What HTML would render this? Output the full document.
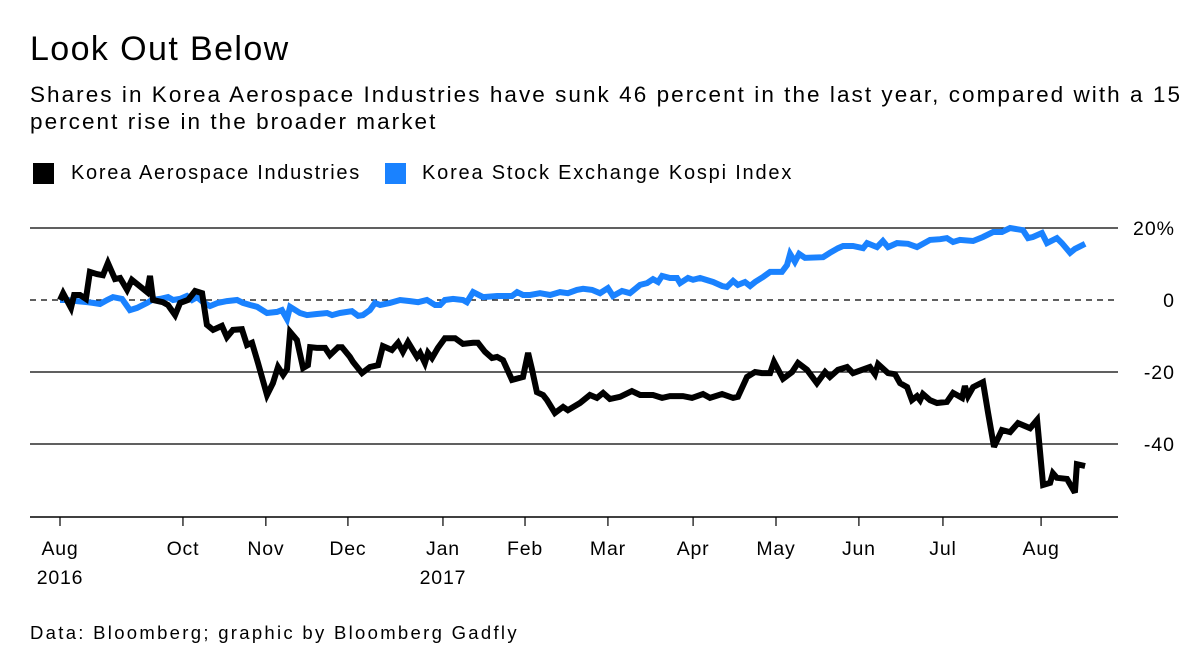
<!DOCTYPE html>
<html><head><meta charset="utf-8">
<style>
body{margin:0;background:#fff;font-family:"Liberation Sans",Arial,sans-serif;color:#000;}
#wrap{position:relative;width:1200px;height:666px;overflow:hidden;}
.t{position:absolute;white-space:nowrap;}
</style></head>
<body>
<div id="wrap">
<div class="t" style="left:30px;top:30px;font-size:34px;letter-spacing:1.4px">Look Out Below</div>
<div class="t" style="left:30px;top:81px;font-size:22.5px;line-height:27px;letter-spacing:2.05px">Shares in Korea Aerospace Industries have sunk 46 percent in the last year, compared with a 15<br>percent rise in the broader market</div>
<div class="t" style="left:33px;top:163px;width:21px;height:21px;background:#000"></div>
<div class="t" style="left:71px;top:162px;font-size:20px;letter-spacing:1.7px">Korea Aerospace Industries</div>
<div class="t" style="left:385px;top:163px;width:21px;height:21px;background:#1a82ff"></div>
<div class="t" style="left:422px;top:162px;font-size:20px;letter-spacing:1.8px">Korea Stock Exchange Kospi Index</div>
<svg id="chart" width="1200" height="666" style="position:absolute;left:0;top:0"></svg>
<div class="t" style="left:30px;top:622px;font-size:18.5px;letter-spacing:2.3px">Data: Bloomberg; graphic by Bloomberg Gadfly</div>
</div>
<script>
const kaiDays=[0,1.1,3.9,5,7.1,9.2,10.6,13.1,15.2,17,19.5,21.3,23.8,25.5,30.9,31.9,33,36.5,38.3,40.8,42.6,45.4,47.9,50.4,52.1,54.3,57.4,59.2,61.3,64.5,66.3,68.1,70.2,73.4,75.5,77.3,79.1,80.5,81.6,84,86.2,87.9,88.7,91.1,94,95.7,98.6,100,102.8,103.9,107.1,109.9,112.8,114.5,117.7,119.9,121.6,123.4,126.6,127.7,129.4,130.5,131.9,134,136.5,140.1,142.9,146.5,148.2,150.7,153.2,155,157.1,160.3,164.2,166,167.4,169.1,171.3,172.7,175.5,178.4,180.1,184.4,187.9,190.4,192.6,195,198.6,202.8,205.7,210.3,213.5,216.3,220.9,224.1,228,230.5,234.8,238.7,240.4,243.6,246.5,248.9,251.8,253.2,256.4,259.6,261.7,264.9,268.4,271.3,273,275.9,279.1,281.2,287.2,289,290.1,293.6,296.1,297.9,300.4,302.1,303.9,305,306,308.5,311,314.5,316.7,319.9,320.9,322,323.8,327.3,329.1,331.2,334,336.9,339.7,344,346.5,348.6,351.1,352.1,353.5,357.1,359.9,360.6,363.5];
const kaiValues=[0,1.9,-2.2,1.4,1.4,0.3,7.8,7.2,6.9,10.3,5.8,6.1,2.8,5.6,2.2,6.7,0,-0.6,-1.4,-4.2,-0.8,0,2.5,1.9,-6.9,-8.3,-7.2,-10.3,-8.3,-8.1,-12.5,-11.9,-17.5,-26.4,-23.1,-18.6,-20.8,-19.2,-8.9,-11.1,-18.9,-18.1,-13.1,-13.3,-13.3,-15.3,-13.1,-13.1,-15.8,-17.2,-20.3,-18.6,-18.1,-12.8,-13.9,-11.9,-14.4,-11.7,-15.8,-14.7,-17.5,-14.7,-16.1,-13.3,-10.6,-10.6,-12.2,-11.9,-11.9,-14.4,-16.1,-15.8,-16.7,-22.2,-21.4,-14.7,-19.4,-25.6,-26.4,-27.8,-31.4,-29.7,-30.6,-28.6,-26.4,-27.2,-25.8,-27.5,-26.9,-25.3,-26.4,-26.4,-27.2,-26.7,-26.7,-27.2,-26.1,-27.2,-26.1,-27.2,-26.9,-21.4,-20,-20.3,-20.3,-17.2,-21.9,-20,-17.5,-19.4,-23.1,-20,-21.4,-19.4,-18.6,-20.3,-18.6,-20.6,-17.8,-20.3,-20.6,-23.1,-24.2,-27.8,-26.7,-27.8,-26.1,-27.8,-28.6,-28.3,-25.8,-27.2,-23.9,-26.7,-24.2,-22.8,-31.4,-40.8,-36.1,-36.7,-34.2,-35.6,-33.3,-51.4,-50.8,-48.1,-49.4,-49.7,-53.5,-45.6,-46.1];
const kospiDays=[0,2.5,6,9.6,11.7,14.2,16.7,18.8,22,24.8,27.3,30.9,32.6,35.5,38.3,40.1,42.6,45,46.8,48.6,50.7,53.2,56,59.2,62.8,64.9,67.4,69.9,73.4,77,78.7,80.5,81.6,85.1,87.6,91.1,94.7,96.5,99.3,103.5,105.7,107.4,109.9,111.7,113.5,117,120.6,124.1,127,130.1,133,134.8,136.5,139.4,142.9,144.3,146.5,150,155,160.3,162.1,164.2,166.7,170.2,173.8,177.3,180.1,183.3,185.5,188.7,191.5,194.3,196.1,199.3,202.1,205.7,208.2,210.3,212.1,213.5,216.3,218.8,219.9,222.7,224.5,227,231.6,234.8,236.5,238.7,240.4,242.9,244.7,246.5,249.3,251.8,256,257.8,258.9,260.6,262.1,264.2,270.6,273,275.9,277.7,281.2,284.8,286.2,289.7,291.8,293.6,296.8,300.7,303.9,308.5,312.1,314.5,316.7,319.1,323.8,327.3,330.9,334,336.9,341.5,343.3,345,348.2,350,353.5,355.3,358.2,359.9,363.5];
const kospiValues=[0,0,-0.3,-0.6,-0.8,-1.1,0,0.8,0.3,-2.8,-2.2,-0.8,0,0.3,0.8,0,0.3,1.1,0,0.8,-0.6,-1.7,-0.8,-0.3,0,-0.8,-1.4,-1.9,-3.6,-3.3,-2.8,-5.3,-1.9,-3.6,-4.2,-3.9,-3.6,-4.2,-3.6,-3.1,-4.4,-4.2,-2.8,-0.8,-1.4,-0.8,0,-0.3,-0.6,0,-1.4,-1.4,0,0.3,0,-0.6,2.2,0.8,1.1,1.1,2.2,1.4,1.4,1.9,1.4,2.2,1.9,2.8,3.1,2.8,1.9,3.3,1.1,2.5,1.9,4.2,4.7,5.8,5,6.7,6.1,6.1,4.7,6.1,5.6,6.1,5,3.9,3.6,5.3,4.2,5,3.9,5,6.4,7.8,7.8,9.7,12.8,10.6,12.8,11.7,11.9,13.1,14.4,15,15,14.4,15.8,14.7,16.4,14.7,15.8,15.6,14.7,16.7,16.9,17.2,16.1,16.7,16.4,17.5,18.9,18.9,20,19.4,17.2,17.5,18.6,15.8,17.2,15.8,13.1,14.2,15.6];
const yTicks=[20,0,-20,-40];
const yTickLabels=["20%","0","-20","-40"];
const xTickDays=[0,43.6,73,102.1,135.8,164.9,194.3,224.5,253.9,283.3,313.1,347.9];
const xTickLabels=["Aug","Oct","Nov","Dec","Jan","Feb","Mar","Apr","May","Jun","Jul","Aug"];
const xTickYears=["2016","","","","2017","","","","","","",""];

const NS="http://www.w3.org/2000/svg";
const svg=document.getElementById('chart');
const X=d=>60+d*2.82;
const Y=v=>300-v*3.6;
function mk(tag,attrs){const e=document.createElementNS(NS,tag);for(const k in attrs)e.setAttribute(k,attrs[k]);svg.appendChild(e);return e;}

yTicks.forEach((v,i)=>{
  const l=mk('line',{x1:30,x2:1118,y1:Y(v),y2:Y(v),stroke:'#000','stroke-width':1.3});
  if(v===0)l.setAttribute('stroke-dasharray','6,5');
  
  
  const t=mk('text',{x:1175,y:Y(v)+7,'text-anchor':'end','font-size':19.5,'letter-spacing':1,'font-family':'Liberation Sans, sans-serif'});
  t.textContent=yTickLabels[i];
  
  
});
const ax=mk('line',{x1:30,x2:1118,y1:517,y2:517,stroke:'#000','stroke-width':1.5});


xTickDays.forEach((d,i)=>{
  const tk=mk('line',{x1:X(d),x2:X(d),y1:517,y2:526,stroke:'#000','stroke-width':1.2});
  
  
  const t=mk('text',{x:X(d),y:555,'text-anchor':'middle','font-size':19.5,'letter-spacing':0.8,'font-family':'Liberation Sans, sans-serif'});
  t.textContent=xTickLabels[i];
  
  
  if(xTickYears[i]){
    const y=mk('text',{x:X(d),y:584,'text-anchor':'middle','font-size':19.5,'letter-spacing':0.8,'font-family':'Liberation Sans, sans-serif'});
    y.textContent=xTickYears[i];
    
    
  }
});
function line(days,vals,color,name){
  const p=days.map((d,i)=>X(d).toFixed(1)+','+Y(vals[i]).toFixed(1)).join(' ');
  const e=mk('polyline',{points:p,fill:'none',stroke:color,'stroke-width':6,'stroke-linejoin':'miter','stroke-miterlimit':3});
  
  
}
line(kospiDays,kospiValues,'#1a82ff','kospi-line');
line(kaiDays,kaiValues,'#000','kai-line');
</script>
</body></html>
